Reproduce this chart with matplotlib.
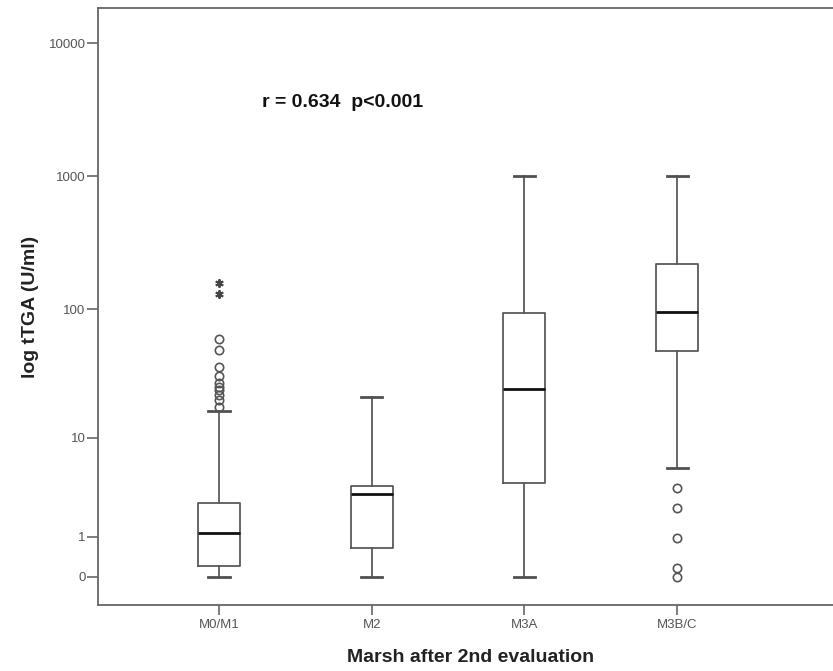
import numpy as np
import matplotlib.pyplot as plt

plt.rcParams['font.family'] = ['Liberation Sans', 'DejaVu Sans']

# Gruppen (Marsh nach 2. Evaluation)
kategorien = ["M0/M1", "M2", "M3A", "M3B/C"]

# Boxplot-Kennwerte (tTGA in U/ml)
q1 = [0.21, 0.66, 4.06, 48.3]
median = [1.14, 3.16, 24.6, 95.1]
q3 = [2.58, 3.83, 94.0, 219.0]
whisker_lo = [0.0, 0.0, 0.0, 5.6]
whisker_hi = [16.5, 21.4, 1000.0, 1000.0]

# Ausreisser (Kreise) und Extremwerte (Sterne)
ausreisser = [
    [59.6, 49.2, 36.4, 31.0, 27.4, 25.5, 24.2, 22.1, 20.2, 17.8],
    [],
    [],
    [3.62, 2.27, 0.95, 0.16, 0.0],
]
extremwerte = [[158.0, 131.0], [], [], []]

y_ticks = [0, 1, 10, 100, 1000, 10000]


def vorwaerts(x):
    return np.log10(np.maximum(x, -0.999) + 1.0)


def rueckwaerts(t):
    return 10.0 ** t - 1.0


fig = plt.figure(figsize=(8.33, 6.71), dpi=100)
ax = fig.add_axes([0.1176, 0.0984, 0.8824, 0.8896])
ax.set_yscale('function', functions=(vorwaerts, rueckwaerts))

stats = []
for i in range(len(kategorien)):
    stats.append(dict(
        label=kategorien[i], q1=q1[i], med=median[i], q3=q3[i],
        whislo=whisker_lo[i], whishi=whisker_hi[i], fliers=[]))

pos = np.arange(1, len(kategorien) + 1)
linie = dict(color='#5a5a5a', linewidth=1.3)
ax.bxp(stats, positions=pos, widths=0.275, capwidths=0.14,
       boxprops=linie, whiskerprops=linie,
       capprops=dict(color='#505050', linewidth=2.0),
       medianprops=dict(color='#111111', linewidth=2.0),
       showfliers=False, manage_ticks=False)

for i in range(len(kategorien)):
    if ausreisser[i]:
        ax.plot([pos[i]] * len(ausreisser[i]), ausreisser[i], 'o',
                mfc='none', mec='#555555', ms=6, mew=1.2)
    if extremwerte[i]:
        ax.plot([pos[i]] * len(extremwerte[i]), extremwerte[i],
                marker=(6, 2, 0), ls='none', color='#444444', ms=6, mew=1.4)

ax.set_xlim(0.208, 5.02)
ax.set_ylim(rueckwaerts(-0.21), rueckwaerts(4.262))
ax.set_yticks(y_ticks)
ax.set_yticklabels([str(v) for v in y_ticks])
ax.set_xticks(pos)
ax.set_xticklabels(kategorien)
ax.minorticks_off()

for s in ['left', 'top', 'bottom']:
    ax.spines[s].set_color('#666666')
    ax.spines[s].set_linewidth(1.3)
ax.spines['right'].set_visible(False)
ax.tick_params(axis='both', length=8, width=1.2, color='#666666',
               labelsize=9.5, labelcolor='#555555', pad=1)
ax.tick_params(axis='x', length=7, pad=3)

ax.set_ylabel("log tTGA (U/ml)", fontsize=14, fontweight='bold',
              color='#222222', labelpad=7)
ax.set_xlabel("Marsh after 2nd evaluation", fontsize=14, fontweight='bold',
              color='#222222')
ax.xaxis.set_label_coords(0.507, -0.074)

ax.text(0.223, 0.841, "r = 0.634  p<0.001", transform=ax.transAxes,
        fontsize=14, fontweight='bold', color='#111111', va='center')

fig.savefig("out.png", dpi=100)
